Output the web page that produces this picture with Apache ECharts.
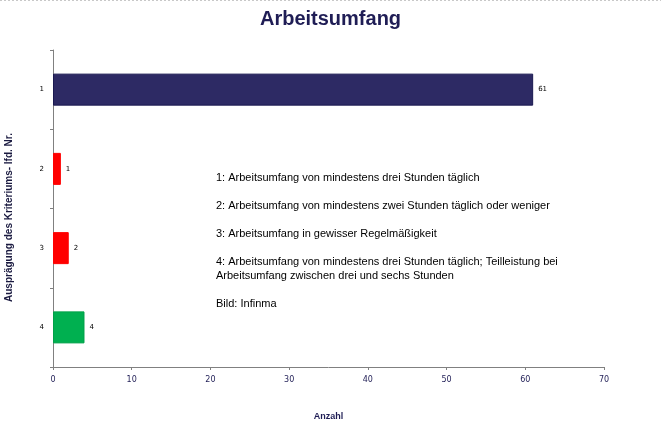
<!DOCTYPE html>
<html><head><meta charset="utf-8">
<script src="https://cdn.jsdelivr.net/npm/echarts@6/dist/echarts.min.js"></script>
<style>html,body{margin:0;padding:0;background:#fff}#c{width:661px;height:426px}</style>
</head><body><div id="c"></div>
<script>
const titleText = 'Arbeitsumfang';
const categories = ['1', '2', '3', '4'];
const values = [61, 1, 2, 4];
const barColors = ['#2d2a64', '#ff0000', '#ff0000', '#00b050'];
const borderColors = ['#1a1850', '#ff0000', '#ff0000', '#00a048'];
const xTicks = [0, 10, 20, 30, 40, 50, 60, 70];
const noteLines = [
  '1: Arbeitsumfang von mindestens drei Stunden täglich',
  '2: Arbeitsumfang von mindestens zwei Stunden täglich oder weniger',
  '3: Arbeitsumfang in gewisser Regelmäßigkeit',
  '4: Arbeitsumfang von mindestens drei Stunden täglich; Teilleistung bei\nArbeitsumfang zwischen drei und sechs Stunden',
  'Bild: Infinma'
];
const noteY = [171, 199, 227, 255, 297];

const chart = echarts.init(document.getElementById('c'));
chart.setOption({
  animation: false,
  title: {
    text: titleText, left: 'center', top: 4,
    textStyle: { fontFamily: 'Liberation Sans, Arial', fontSize: 20, fontWeight: 'bold', color: '#1f1d55' }
  },
  graphic: [{
    type: 'line', shape: { x1: 0, y1: 0.5, x2: 661, y2: 0.5 },
    style: { stroke: '#c8c8c8', lineWidth: 1, lineDash: [2, 2] }
  }].concat(noteLines.map((t, i) => ({
    type: 'text', left: 216, top: noteY[i],
    style: { text: t, fontFamily: 'Liberation Sans, Arial', fontSize: 11, lineHeight: 14, fill: '#000' }
  }))),
  grid: { left: 53, right: 57, top: 50, bottom: 59, containLabel: false, outerBoundsMode: 'none' },
  xAxis: {
    type: 'value', min: 0, max: 70, interval: 10,
    name: 'Anzahl', nameLocation: 'middle', nameGap: 45,
    nameTextStyle: { fontFamily: 'Liberation Sans, Arial', fontSize: 9, fontWeight: 'bold', color: '#1f1d55' },
    axisLine: { show: true, lineStyle: { color: '#808080', width: 1 } },
    axisTick: { show: true, length: 3, lineStyle: { color: '#808080' } },
    axisLabel: { fontFamily: 'DejaVu Sans', fontSize: 8, color: '#1f1d55', margin: 9,
      formatter: v => xTicks.includes(v) ? String(v) : '' },
    splitLine: { show: false }
  },
  yAxis: {
    type: 'category', data: categories, inverse: true,
    name: 'Ausprägung des Kriteriums- lfd. Nr.', nameLocation: 'middle', nameGap: 39, nameRotate: 90,
    nameTextStyle: { fontFamily: 'Liberation Sans, Arial', fontSize: 10, fontWeight: 'bold', color: '#1a1a40', padding: [0, 18, 0, 0] },
    axisLine: { show: true, lineStyle: { color: '#808080', width: 1 } },
    axisTick: { show: true, length: 3, lineStyle: { color: '#808080' } },
    axisLabel: { fontFamily: 'DejaVu Sans', fontSize: 7, color: '#000', margin: 9 },
    splitLine: { show: false }
  },
  series: [{
    type: 'bar',
    barWidth: 32,
    data: values.map((v, i) => ({ value: v, itemStyle: { color: barColors[i], borderColor: borderColors[i], borderWidth: 1 } })),
    label: { show: true, position: 'right', distance: 5, fontFamily: 'DejaVu Sans', fontSize: 7, color: '#000' }
  }]
});
</script></body></html>
